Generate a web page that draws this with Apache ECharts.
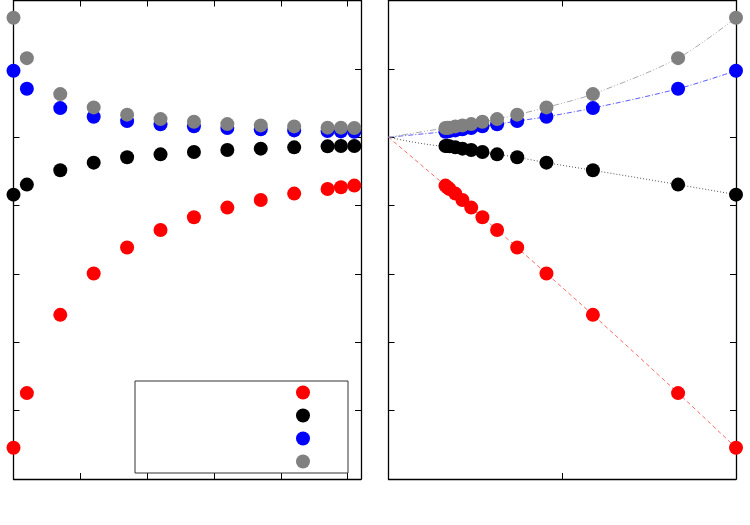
<!DOCTYPE html>
<html>
<head>
<meta charset="utf-8">
<script src="https://cdn.jsdelivr.net/npm/echarts@6/dist/echarts.min.js"></script>
<style>html,body{margin:0;padding:0;background:#fff}#c{width:750px;height:525px}</style>
</head>
<body>
<div id="c"></div>
<script>
// Resolution N (left panel x); right panel x = 1/N
const N = [10, 12, 17, 22, 27, 32, 37, 42, 47, 52, 57, 59, 61];
const seriesNames = ['red', 'black', 'blue', 'gray'];
const redVals   = [0.457, 1.257, 2.401, 3.006, 3.386, 3.643, 3.829, 3.970, 4.082, 4.175, 4.242, 4.267, 4.292];
const blackVals = [4.160, 4.307, 4.516, 4.628, 4.706, 4.749, 4.783, 4.812, 4.833, 4.852, 4.866, 4.871, 4.871];
const blueVals  = [5.972, 5.709, 5.426, 5.300, 5.236, 5.188, 5.159, 5.134, 5.115, 5.100, 5.090, 5.085, 5.081];
const grayVals  = [6.747, 6.157, 5.631, 5.436, 5.330, 5.265, 5.227, 5.192, 5.173, 5.158, 5.140, 5.140, 5.135];
// extrapolated value at 1/N = 0 for each series
const extrapolated = [5.0, 5.0, 5.0, 5.0];

const allVals = [redVals, blackVals, blueVals, grayVals];
const colors = ['#ff0000', '#000000', '#0000ff', '#808080'];
const lineColors = ['#ff6a6a', '#555555', '#5a5aff', '#aaaaaa'];
const lineTypes = [[4, 3], [1, 2], [5, 2, 1, 2], [6, 2, 1, 2, 1, 2]];

const chart = echarts.init(document.getElementById('c'), null, {renderer: 'canvas'});

const axisLineStyle = {color: '#000', width: 1.3};
function xAx(grid, pos, min, max, interval) {
  return {type: 'value', gridIndex: grid, position: pos, min: min, max: max, interval: interval,
    axisLine: {show: true, onZero: false, lineStyle: axisLineStyle},
    axisTick: {show: true, inside: true, length: 6, lineStyle: {color: '#000', width: 1}},
    axisLabel: {show: false}, splitLine: {show: false}};
}
function yAx(grid, pos) {
  return {type: 'value', gridIndex: grid, position: pos, min: 0, max: 7, interval: 1,
    axisLine: {show: true, onZero: false, lineStyle: axisLineStyle},
    axisTick: {show: true, inside: true, length: 6, lineStyle: {color: '#000', width: 1}},
    axisLabel: {show: false}, splitLine: {show: false}};
}

const series = [];
allVals.forEach((vals, i) => {
  series.push({
    name: seriesNames[i], type: 'scatter', xAxisIndex: 0, yAxisIndex: 0,
    symbol: 'circle', symbolSize: 14, clip: false,
    itemStyle: {color: colors[i], opacity: 1},
    data: N.map((n, k) => [n, vals[k]]), z: 3
  });
});
allVals.forEach((vals, i) => {
  const pts = N.map((n, k) => [1 / n, vals[k]]);
  const lineData = [[0, extrapolated[i]]].concat(pts.slice().sort((a, b) => a[0] - b[0]));
  series.push({
    name: seriesNames[i] + ' fit', type: 'line', xAxisIndex: 2, yAxisIndex: 2,
    showSymbol: false, symbol: 'none', smooth: 0.3,
    lineStyle: {color: lineColors[i], width: 1, type: lineTypes[i]},
    data: lineData, z: 2, silent: true
  });
});
allVals.forEach((vals, i) => {
  series.push({
    name: seriesNames[i], type: 'scatter', xAxisIndex: 2, yAxisIndex: 2,
    symbol: 'circle', symbolSize: 14, clip: false,
    itemStyle: {color: colors[i], opacity: 1},
    data: N.map((n, k) => [1 / n, vals[k]]), z: 3
  });
});

chart.setOption({
  animation: false,
  backgroundColor: '#fff',
  grid: [
    {left: 13.5, top: 0.5, width: 347.5, height: 478.5},
    {left: 388.5, top: 0.5, width: 347.5, height: 478.5}
  ],
  xAxis: [
    xAx(0, 'bottom', 10, 62, 10),
    xAx(0, 'top', 10, 62, 10),
    xAx(1, 'bottom', 0, 0.1, 0.05),
    xAx(1, 'top', 0, 0.1, 0.05)
  ],
  yAxis: [
    yAx(0, 'left'), yAx(0, 'right'),
    yAx(1, 'left'), yAx(1, 'right')
  ],
  graphic: [{
    type: 'rect', left: 134.5, top: 380.5, z: 1,
    shape: {width: 213, height: 92},
    style: {fill: '#fff', stroke: '#333', lineWidth: 1}
  }],
  legend: {
    data: seriesNames.map(n => ({name: n, icon: 'circle'})),
    orient: 'vertical', left: 296, top: 385.5, padding: 0,
    itemWidth: 14, itemHeight: 14, itemGap: 9,
    selectedMode: false, formatter: () => '', z: 5
  },
  series: series
});
</script>
</body>
</html>
